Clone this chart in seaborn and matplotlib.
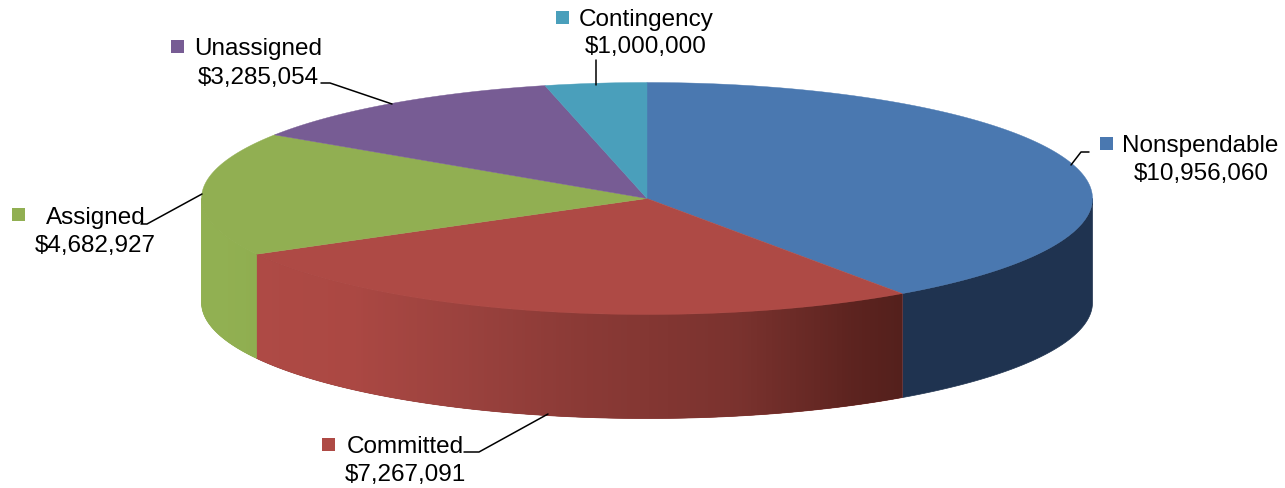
import numpy as np
import pandas as pd
import seaborn as sns
import matplotlib
matplotlib.use("Agg")
import matplotlib.pyplot as plt
from matplotlib.colors import to_rgb
from matplotlib.patches import Polygon, Rectangle

# Data
categories = ["Nonspendable", "Committed", "Assigned", "Unassigned", "Contingency"]
values = [10956060, 7267091, 4682927, 3285054, 1000000]
value_labels = ["$10,956,060", "$7,267,091", "$4,682,927", "$3,285,054", "$1,000,000"]

# Styles
top_colors = ["#4a78b0", "#ae4a45", "#91af52", "#775c94", "#4a9fbb"]
# Side wall colour stops: position along the slice's visible width, colour
side_stops = [
    [(0, "#1f3350"), (1, "#1f3350")],
    [(0, "#54201c"), (0.07, "#5c231f"), (0.25, "#7a322e"), (0.5, "#8b3a36"),
     (0.68, "#9b423e"), (0.85, "#ab4843"), (1, "#ae4a45")],
    [(0, "#8fae50"), (1, "#93b153")],
    [(0, "#5c4673"), (1, "#5c4673")],
    [(0, "#3a7f96"), (1, "#3a7f96")],
]

sns.set_theme(style="white")
plt.rcParams["font.family"] = ["Liberation Sans", "DejaVu Sans"]

df = pd.DataFrame({"category": categories, "value": values, "label": value_labels})
df["share"] = df["value"] / df["value"].sum()
df["end"] = df["share"].cumsum() * 2 * np.pi
df["start"] = df["end"] - df["share"] * 2 * np.pi

CX, CY, RX, RY, DEPTH = 647, 198.5, 445.5, 116, 104


def rim(t, dy=0):
    return CX + RX * np.sin(t), CY - RY * np.cos(t) + dy


def stop_colour(stops, f):
    pos = [s[0] for s in stops]
    rgb = np.array([to_rgb(s[1]) for s in stops])
    return [float(np.interp(f, pos, rgb[:, k])) for k in range(3)]


fig = plt.figure(figsize=(12.85, 4.88), dpi=100)
ax = fig.add_axes([0, 0, 1, 1])
ax.set_xlim(0, 1285)
ax.set_ylim(488, 0)
ax.axis("off")

# Side wall, only the front half of the ellipse is visible
for i, row in df.iterrows():
    a, b = max(row["start"], np.pi / 2), min(row["end"], 1.5 * np.pi)
    if a >= b:
        continue
    ts = np.linspace(a, b, 240)
    xs, ys = rim(ts)
    x_a, x_b = xs[0], xs[-1]
    outline = list(zip(xs, ys)) + list(zip(xs[::-1], ys[::-1] + DEPTH))
    under = stop_colour(side_stops[i], 0.5)
    ax.add_patch(Polygon(outline, closed=True, facecolor=under, edgecolor=under,
                         lw=0.5, zorder=2))
    if len(set(s[1] for s in side_stops[i])) == 1:
        continue
    # Overlapping strips paint the gradient without seams; each ends where the next begins + 1
    for k in range(len(ts) - 1):
        e = min(k + 2, len(ts) - 1)
        f = (xs[k] - x_a) / (x_b - x_a)
        col = stop_colour(side_stops[i], f)
        ax.add_patch(Polygon([(xs[k], ys[k]), (xs[e], ys[e]),
                              (xs[e], ys[e] + DEPTH), (xs[k], ys[k] + DEPTH)],
                             closed=True, facecolor=col, edgecolor="none", zorder=2))

# Top face
for i, row in df.iterrows():
    ts = np.linspace(row["start"], row["end"], 200)
    xs, ys = rim(ts)
    pts = [(CX, CY)] + list(zip(xs, ys))
    ax.add_patch(Polygon(pts, closed=True, facecolor=top_colors[i],
                         edgecolor=top_colors[i], lw=0.3, zorder=3))

label_layout = {
    "Nonspendable": dict(sw=(1100, 137), name=(1122, 146), val=(1201, 174),
                         leader=[(1071, 165), (1081, 152), (1089, 152)]),
    "Committed": dict(sw=(322, 438), name=(347, 447), val=(405, 475),
                      leader=[(548, 414), (479, 452), (464, 452)]),
    "Assigned": dict(sw=(12, 208), name=(46, 218), val=(95, 246),
                     leader=[(202, 194), (147, 224), (141, 224)]),
    "Unassigned": dict(sw=(171, 40), name=(194, 49), val=(258, 78),
                       leader=[(392, 104), (330, 83), (321, 83)]),
    "Contingency": dict(sw=(556, 11), name=(579, 20), val=(646, 47),
                        leader=[(596, 85), (596, 60)]),
}

for i, row in df.iterrows():
    lay = label_layout[row["category"]]
    ax.add_patch(Rectangle(lay["sw"], 13, 13, facecolor=top_colors[i], edgecolor="none", zorder=5))
    ax.text(*lay["name"], row["category"], fontsize=17.5, color="black", ha="left", va="center", zorder=6)
    ax.text(*lay["val"], row["label"], fontsize=17.5, color="black", ha="center", va="center", zorder=6)
    lx, ly = zip(*lay["leader"])
    ax.plot(lx, ly, color="black", lw=1.1, zorder=4)

fig.savefig("out.png", dpi=100, facecolor="white")
